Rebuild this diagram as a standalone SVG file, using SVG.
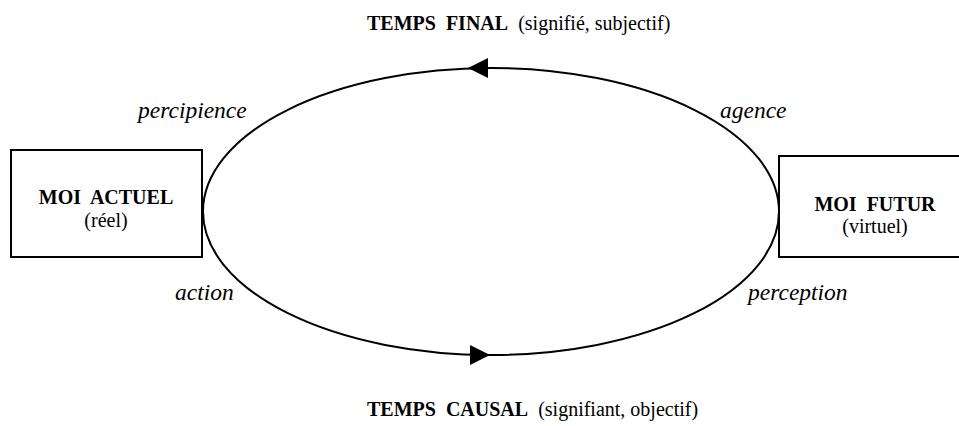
<svg xmlns="http://www.w3.org/2000/svg" xmlns:xlink="http://www.w3.org/1999/xlink" width="959" height="426" viewBox="0 0 959 426">
<style>
.box{fill:#fff;stroke:#000;stroke-width:2}
.line{fill:none;stroke:#000;stroke-width:2}
.b{font-family:"Liberation Serif","Times New Roman",serif;font-weight:bold;font-size:20px;fill:#000}
.r{font-family:"Liberation Serif","Times New Roman",serif;font-size:20px;fill:#000}
.i{font-family:"Liberation Serif","Times New Roman",serif;font-style:italic;font-size:23.5px;fill:#000}
</style>
<defs>
<polygon id="ah" points="0,0 -20,-10 -20,10" fill="#000"/>
</defs>
<rect width="959" height="426" fill="#fff"/>
<g id="connectors">
<ellipse class="line" cx="491" cy="211.5" rx="288" ry="143.5"/>
<use xlink:href="#ah" transform="translate(468,68) rotate(180)"/>
<use xlink:href="#ah" transform="translate(490,355)"/>
</g>
<g id="moi-actuel">
<rect class="box" x="11" y="150" width="191" height="107"/>
<text class="b" x="106" y="204" text-anchor="middle" xml:space="preserve">MOI  ACTUEL</text>
<text class="r" x="106" y="227" text-anchor="middle">(réel)</text>
</g>
<g id="moi-futur">
<rect class="box" x="779" y="156" width="192" height="101"/>
<text class="b" x="875" y="211" text-anchor="middle" xml:space="preserve">MOI  FUTUR</text>
<text class="r" x="875" y="233" text-anchor="middle">(virtuel)</text>
</g>
<g id="temps-final">
<text x="367" y="30" xml:space="preserve"><tspan class="b">TEMPS  FINAL</tspan><tspan class="r">  (signifié, subjectif)</tspan></text>
</g>
<g id="temps-causal">
<text x="367" y="416" xml:space="preserve"><tspan class="b">TEMPS  CAUSAL</tspan><tspan class="r">  (signifiant, objectif)</tspan></text>
</g>
<g id="labels">
<text class="i" x="138" y="118">percipience</text>
<text class="i" x="720" y="118">agence</text>
<text class="i" x="175" y="300">action</text>
<text class="i" x="748" y="300">perception</text>
</g>
</svg>
